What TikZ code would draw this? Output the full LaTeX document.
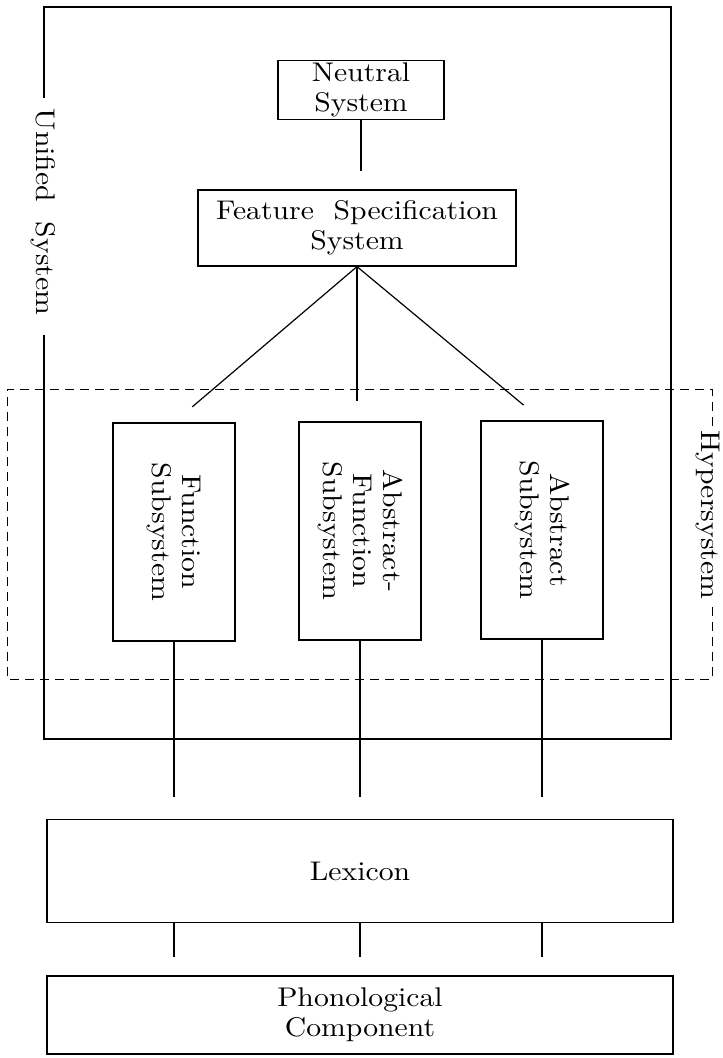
\documentclass[tikz,border=0pt]{standalone}
\usepackage{fontspec}
\usepackage{tikz}
\usetikzlibrary{calc}
\newfontfamily\typefont{lmroman10-regular.otf}[FakeStretch=1.1]
\newcommand{\diagfont}{\typefont\fontsize{27}{30}\selectfont}
\tikzset{
  sysbox/.style={draw, line width=1.2pt, inner sep=0pt, align=center, font=\diagfont},
  subbox/.style={sysbox, rotate=-90, minimum width=218pt, minimum height=122pt},
  framelabel/.style={font=\diagfont, rotate=-90, inner sep=0pt},
  link/.style={line width=1.2pt},
  hyper/.style={line width=1pt, dash pattern=on 9pt off 6pt}
}
\begin{document}
\begin{tikzpicture}[x=1pt, y=-1pt]
            \useasboundingbox (0,0) rectangle (723,1058);
            % Unified System frame
            \draw[link]  (44,98) -- (44,7) -- (671,7) -- (671,739) -- (44,739) -- (44,335);
            \node[framelabel] (unified) at (43,212) {Unified\ \ System};
            % Hypersystem frame
            \draw[hyper] (712,426) -- (712,389) -- (7,389) -- (7,679) -- (712,679) -- (712,607);
            \node[framelabel] (hyper) at (708,515) {Hypersystem};
            % Systems
            \node[sysbox, minimum width=166pt, minimum height=59pt] (neutral) at (361,90) {Neutral\\System};
            \node[sysbox, minimum width=318pt, minimum height=76pt] (feature) at (357,228) {Feature\ \ Specification\\System};
            % Subsystems
            \node[subbox] (function)    at (174,532) {Function\\Subsystem};
            \node[subbox] (absfunction) at (360,531) {Abstract-\\Function\\Subsystem};
            \node[subbox] (abstract)    at (542,530) {Abstract\\Subsystem};
            % Lexicon & phonology
            \node[sysbox, minimum width=626pt, minimum height=103pt] (lexicon) at (360,871) {Lexicon};
            \node[sysbox, minimum width=626pt, minimum height=78pt]  (phono)   at (360,1015) {Phonological\\Component};
            % Links
            \draw[link, shorten >=18pt] (neutral.south) -- (neutral.south |- feature.north);
            \draw[link, shorten >=24pt] (feature.south) -- (function.west);
            \draw[link, shorten >=20pt] (feature.south) -- (feature.south |- absfunction.west);
            \draw[link, shorten >=24pt] (feature.south) -- (abstract.west);
            \foreach \sub in {function, absfunction, abstract} {
                \draw[link, shorten >=22pt] (\sub.east) -- (\sub.east |- lexicon.north);
                \draw[link, shorten >=18pt] (\sub.east |- lexicon.south) -- (\sub.east |- phono.north);
            }
        \end{tikzpicture}
\end{document}
